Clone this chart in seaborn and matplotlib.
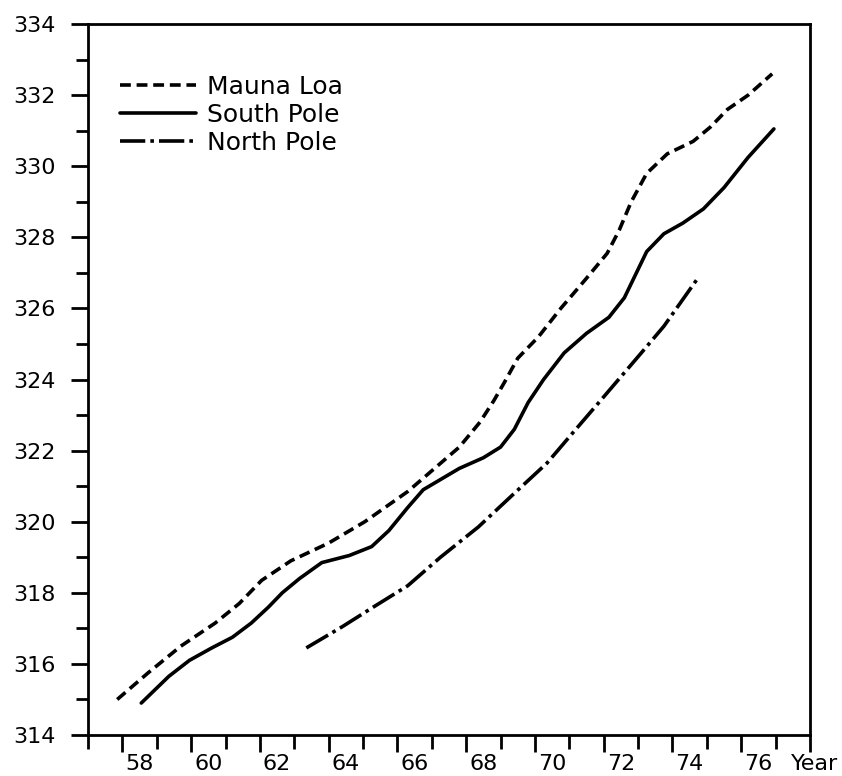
import numpy as np
import pandas as pd
import matplotlib
matplotlib.use("Agg")
import matplotlib.pyplot as plt
import matplotlib.transforms as mtransforms
import seaborn as sns

# Datos
mauna_loa_years = [57.85, 58.75, 59.7, 60.7, 61.4, 62.05, 62.9, 64.0, 65.05, 66.3,
                   66.9, 67.8, 68.4, 68.8, 69.1, 69.5, 70.1, 70.75, 71.5, 72.1,
                   72.45, 72.8, 73.25, 73.85, 74.6, 75.1, 75.6, 76.2, 76.9]
mauna_loa_co2 = [315.0, 315.75, 316.5, 317.15, 317.7, 318.35, 318.9, 319.4, 320.0, 320.85,
                 321.35, 322.1, 322.8, 323.4, 323.9, 324.6, 325.2, 326.0, 326.85, 327.55,
                 328.2, 329.0, 329.8, 330.35, 330.7, 331.1, 331.6, 332.0, 332.6]

south_pole_years = [58.55, 59.35, 59.95, 60.6, 61.2, 61.75, 62.25, 62.65, 63.15, 63.8,
                    64.6, 65.25, 65.75, 66.3, 66.75, 67.8, 68.5, 69.0, 69.4, 69.8,
                    70.25, 70.85, 71.5, 72.15, 72.6, 72.95, 73.25, 73.75, 74.3, 74.9,
                    75.5, 76.2, 76.95]
south_pole_co2 = [314.9, 315.65, 316.1, 316.45, 316.75, 317.15, 317.6, 318.0, 318.4, 318.85,
                  319.05, 319.3, 319.75, 320.4, 320.9, 321.5, 321.8, 322.1, 322.6, 323.35,
                  324.0, 324.75, 325.3, 325.75, 326.3, 327.0, 327.6, 328.1, 328.4, 328.8,
                  329.4, 330.25, 331.05]

north_pole_years = [63.35, 64.4, 65.3, 66.3, 67.25, 68.35, 69.4, 70.35, 71.1, 71.9,
                    73.05, 73.75, 74.7]
north_pole_co2 = [316.45, 317.05, 317.6, 318.2, 319.0, 319.85, 320.8, 321.65, 322.5, 323.4,
                  324.7, 325.5, 326.8]

year_labels = ["58", "60", "62", "64", "66", "68", "70", "72", "74", "76", ""]

sns.set_style("ticks")
plt.rcParams["font.family"] = ["DejaVu Sans"]
plt.rcParams["text.color"] = "black"
plt.rcParams["xtick.color"] = "black"
plt.rcParams["ytick.color"] = "black"
plt.rcParams["xtick.labelcolor"] = "black"
plt.rcParams["ytick.labelcolor"] = "black"

fig = plt.figure(figsize=(8.42, 7.76), dpi=100)
ax = fig.add_axes([0.1045, 0.0528, 0.8575, 0.9162])

series = [
    ("Mauna Loa", mauna_loa_years, mauna_loa_co2, (0, (3.0, 1.6))),
    ("South Pole", south_pole_years, south_pole_co2, "-"),
    ("North Pole", north_pole_years, north_pole_co2, (0, (7, 1.4, 1.0, 1.4))),
]
for name, yrs, vals, ls in series:
    df = pd.DataFrame({"year": yrs, "co2": vals})
    sns.lineplot(data=df, x="year", y="co2", ax=ax, color="black", lw=2.6,
                 linestyle=ls, label=name, sort=False)

ax.set_xlim(57, 78)
ax.set_ylim(314, 334)
ax.set_xlabel("")
ax.set_ylabel("")

# Ejes
ax.set_xticks(np.arange(58, 79, 2))
ax.set_xticklabels(year_labels)
ax.set_xticks(np.arange(57, 78, 2), minor=True)
ax.set_yticks(np.arange(314, 335, 2))
ax.set_yticks(np.arange(315, 334, 2), minor=True)

ax.tick_params(axis="x", which="major", direction="out", length=12, width=2,
               labelsize=16, pad=1.5)
ax.tick_params(axis="x", which="minor", direction="out", length=10, width=2)
ax.tick_params(axis="y", which="major", direction="out", length=12, width=2,
               labelsize=16, pad=11)
ax.tick_params(axis="y", which="minor", direction="out", length=9, width=2)

# etiquetas de anio entre marcas
offset = mtransforms.ScaledTranslation(17.2 / 100, 0, fig.dpi_scale_trans)
for lab in ax.get_xticklabels():
    lab.set_transform(lab.get_transform() + offset)

trans = mtransforms.blended_transform_factory(ax.transData, ax.transAxes)
ax.text(78.12, -0.026, "Year", transform=trans, ha="center", va="top", fontsize=16)

for sp in ax.spines.values():
    sp.set_linewidth(2.0)
    sp.set_color("black")

ax.legend(loc="upper left", bbox_to_anchor=(0.044, 0.929), frameon=False,
          fontsize=18, handlelength=3.05, handletextpad=0.45, labelspacing=0.17,
          borderpad=0, borderaxespad=0)

fig.savefig("out.png", dpi=100)
